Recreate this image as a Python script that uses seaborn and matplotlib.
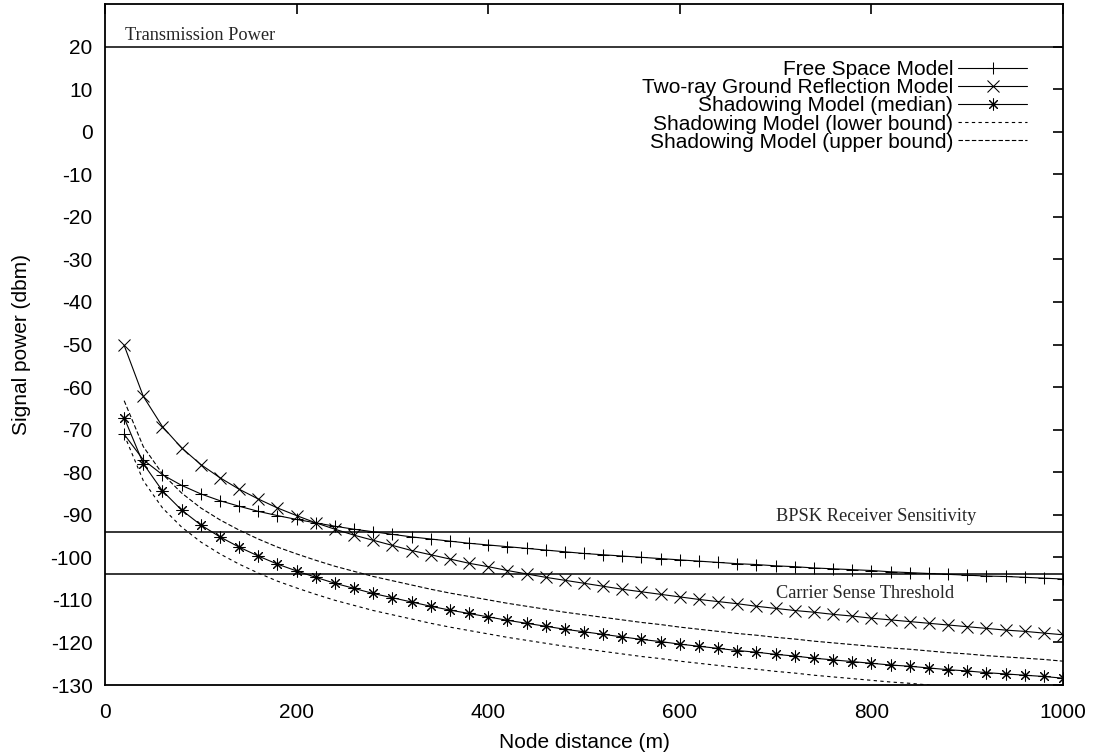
import numpy as np
import pandas as pd
import matplotlib
matplotlib.use("Agg")
import matplotlib.pyplot as plt
import seaborn as sns

# Node distance (m)
distance = [20, 40, 60, 80, 100, 120, 140, 160, 180, 200,
            220, 240, 260, 280, 300, 320, 340, 360, 380, 400,
            420, 440, 460, 480, 500, 520, 540, 560, 580, 600,
            620, 640, 660, 680, 700, 720, 740, 760, 780, 800,
            820, 840, 860, 880, 900, 920, 940, 960, 980, 1000]

# Received signal power (dBm) per propagation model
free_space = [-71.1, -77.1, -80.6, -83.1, -85.1, -86.7, -88.0, -89.2, -90.2, -91.1,
              -91.9, -92.7, -93.4, -94.0, -94.6, -95.2, -95.7, -96.2, -96.7, -97.1,
              -97.5, -97.9, -98.3, -98.7, -99.1, -99.4, -99.7, -100.0, -100.3, -100.6,
              -100.9, -101.2, -101.5, -101.7, -102.0, -102.2, -102.5, -102.7, -102.9, -103.1,
              -103.4, -103.6, -103.8, -104.0, -104.2, -104.4, -104.5, -104.7, -104.9, -105.1]

two_ray = [-50.2, -62.2, -69.3, -74.3, -78.2, -81.3, -84.0, -86.3, -88.4, -90.2,
           -91.9, -93.4, -94.8, -96.0, -97.2, -98.4, -99.4, -100.4, -101.4, -102.2,
           -103.1, -103.9, -104.7, -105.4, -106.1, -106.8, -107.5, -108.1, -108.7, -109.3,
           -109.9, -110.4, -110.9, -111.5, -112.0, -112.5, -112.9, -113.4, -113.8, -114.3,
           -114.7, -115.1, -115.5, -115.9, -116.3, -116.7, -117.1, -117.4, -117.8, -118.2]

shadow_median = [-67.2, -78.0, -84.4, -88.9, -92.4, -95.2, -97.6, -99.7, -101.6, -103.2,
                 -104.7, -106.1, -107.3, -108.5, -109.5, -110.5, -111.5, -112.4, -113.2, -114.0,
                 -114.8, -115.5, -116.2, -116.9, -117.5, -118.1, -118.7, -119.3, -119.8, -120.4,
                 -120.9, -121.4, -121.9, -122.3, -122.8, -123.2, -123.7, -124.1, -124.5, -124.9,
                 -125.3, -125.6, -126.0, -126.4, -126.7, -127.1, -127.4, -127.7, -128.0, -128.4]

shadow_lower = [-71.2, -82.0, -88.4, -92.9, -96.4, -99.2, -101.6, -103.7, -105.6, -107.2,
                -108.7, -110.1, -111.3, -112.5, -113.5, -114.5, -115.5, -116.4, -117.2, -118.0,
                -118.8, -119.5, -120.2, -120.9, -121.5, -122.1, -122.7, -123.3, -123.8, -124.4,
                -124.9, -125.4, -125.9, -126.3, -126.8, -127.2, -127.7, -128.1, -128.5, -128.9,
                -129.3, -129.6, -130.0, -130.4, -130.7, -131.1, -131.4, -131.7, -132.0, -132.4]

shadow_upper = [-63.2, -74.0, -80.4, -84.9, -88.4, -91.2, -93.6, -95.7, -97.6, -99.2,
                -100.7, -102.1, -103.3, -104.5, -105.5, -106.5, -107.5, -108.4, -109.2, -110.0,
                -110.8, -111.5, -112.2, -112.9, -113.5, -114.1, -114.7, -115.3, -115.8, -116.4,
                -116.9, -117.4, -117.9, -118.3, -118.8, -119.2, -119.7, -120.1, -120.5, -120.9,
                -121.3, -121.6, -122.0, -122.4, -122.7, -123.1, -123.4, -123.7, -124.0, -124.4]

# Reference power levels (dBm)
levels = [20, -94, -104]
level_labels = ["Transmission Power", "BPSK Receiver Sensitivity", "Carrier Sense Threshold"]

x_ticks = [0, 200, 400, 600, 800, 1000]
y_ticks = list(range(-130, 30, 10))

sns.set_theme(style="white")
plt.rcParams["font.family"] = ["Liberation Sans", "DejaVu Sans"]
plt.rcParams["axes.linewidth"] = 1.3
plt.rcParams["axes.unicode_minus"] = False

fig = plt.figure(figsize=(10.98, 7.55), dpi=100)
ax = fig.add_axes([105 / 1098, 70 / 755, 958 / 1098, 681 / 755])

line_kw = dict(color="black", linewidth=0.8, ax=ax)
mark_kw = dict(markeredgecolor="black", markerfacecolor="black", markeredgewidth=0.75)
sns.lineplot(x=distance, y=free_space, marker="+", markersize=8,
             label="Free Space Model", **mark_kw, **line_kw)
sns.lineplot(x=distance, y=two_ray, marker="x", markersize=8,
             label="Two-ray Ground Reflection Model", **mark_kw, **line_kw)
sns.lineplot(x=distance, y=shadow_median, marker=(8, 2, 0), markersize=8.5,
             label="Shadowing Model (median)", **mark_kw, **line_kw)
sns.lineplot(x=distance, y=shadow_lower, label="Shadowing Model (lower bound)",
             linestyle=(0, (3, 3)), **line_kw)
sns.lineplot(x=distance, y=shadow_upper, label="Shadowing Model (upper bound)",
             linestyle=(0, (4, 2)), **line_kw)

# Horizontal reference levels with their captions
for lvl in levels:
    ax.axhline(lvl, color="black", linewidth=1.1, zorder=1)
serif = ["Liberation Serif", "DejaVu Serif"]
ax.text(21, 22.6, level_labels[0], family=serif, fontsize=13.2, ha="left", va="center")
ax.text(700, -90.3, level_labels[1], family=serif, fontsize=13.2, ha="left", va="center")
ax.text(700, -108.4, level_labels[2], family=serif, fontsize=13.2, ha="left", va="center")

ax.set_xlim(0, 1000)
ax.set_ylim(-130, 30)
ax.set_xticks(x_ticks)
ax.set_yticks(y_ticks)
ax.tick_params(direction="in", length=7, width=1.2, top=True, right=True,
               labelsize=15, color="black", labelcolor="black")
ax.tick_params(axis="y", pad=9)
ax.tick_params(axis="x", pad=13)
for s in ax.spines.values():
    s.set_color("black")
    s.set_visible(True)

ax.set_xlabel("Node distance (m)", fontsize=15, color="black", labelpad=8)
ax.set_ylabel("Signal power (dbm)", fontsize=15, color="black", labelpad=14)

leg = ax.legend(loc="upper right", bbox_to_anchor=(1027 / 1098, 1 - 60 / 755),
                bbox_transform=fig.transFigure, frameon=False, markerfirst=False,
                fontsize=15, handlelength=3.3, handletextpad=0.25, labelspacing=-0.04,
                borderaxespad=0, borderpad=0)
for t in leg.get_texts():
    t.set_color("black")

fig.savefig("out.png", dpi=100, facecolor="white")
